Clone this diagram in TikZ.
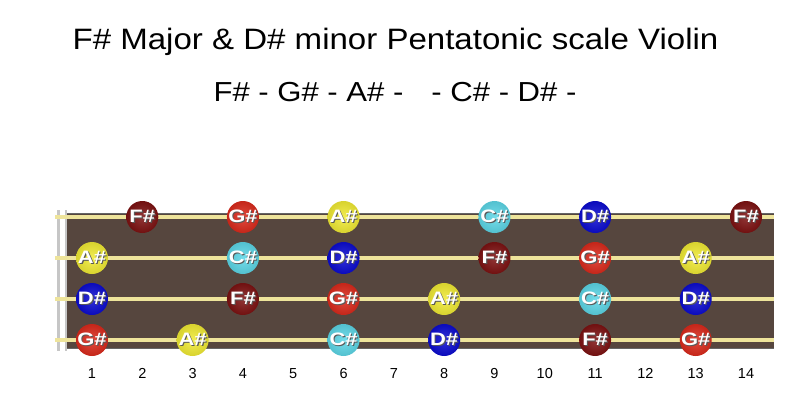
\documentclass[tikz,border=0pt]{standalone}
\usepackage{fontspec}
\setmainfont{Liberation Sans}
\newfontfamily\titlefont{Liberation Sans}[FakeStretch=1.12]
\newfontfamily\subfont{Liberation Sans}[FakeStretch=1.13]
\newfontfamily\notefont{Liberation Sans}[FakeStretch=1.22]
\definecolor{boardc}{RGB}{86,70,62}
\definecolor{stringc}{RGB}{238,228,155}
\definecolor{ndr}{RGB}{125,18,18}
\definecolor{nrd}{RGB}{218,42,28}
\definecolor{nye}{RGB}{240,234,52}
\definecolor{ncy}{RGB}{92,214,230}
\definecolor{nbl}{RGB}{12,12,208}
\newcommand\shtxt[1]{\makebox[0pt]{\hspace{2.2pt}\raisebox{-1.1pt}{\color{black!65}#1}}\makebox[0pt]{\color{white}#1}}
\tikzset{
  titletxt/.style={anchor=base,inner sep=0pt,font=\titlefont\fontsize{29.5}{34}\selectfont},
  subtxt/.style={anchor=base,inner sep=0pt,font=\subfont\fontsize{27.5}{32}\selectfont},
  fretnum/.style={inner sep=0pt,font=\fontsize{14.5}{16}\selectfont},
  vstring/.style={draw=stringc,line width=3.2pt},
  notec/.style={circle,minimum size=32pt,inner sep=0pt,shading=radial,
    inner color=#1!85!white,outer color=#1!90!black,
    font=\notefont\bfseries\fontsize{18}{20}\selectfont}
}
\begin{document}
\begin{tikzpicture}[x=1pt,y=-1pt]
\useasboundingbox (0,0) rectangle (800,415);
\node[titletxt] (title) at (395.5,49.5) {F\# Major \& D\# minor Pentatonic scale Violin};
\node[subtxt] (sub) at (395,101) {F\# - G\# - A\# -\hspace{28pt}- C\# - D\# -};
% board
\fill[boardc] (57,213) rectangle (774,348);
\draw[black!60,line width=0.6pt] (57,213) -- (774,213);
\draw[black!60,line width=0.6pt] (57,348) -- (774,348);
% nut
\fill[gray!45] (57,210) rectangle (67,351);
\fill[white] (60,210) rectangle (65,351);
% strings
\foreach \s/\y in {1/217,2/258,3/299,4/340}{
  \coordinate (sl\s) at (55,\y);
  \coordinate (sr\s) at (774,\y);
  \draw[vstring] (sl\s) -- (sr\s);
}
% fret numbers
\foreach \f in {1,...,14}{
  \node[fretnum] (fn\f) at ({92+(\f-1)*50.31},373.5) {\f};
}
% notes
\foreach \f/\s/\c/\t in {
  2/1/ndr/F, 4/1/nrd/G, 6/1/nye/A, 9/1/ncy/C, 11/1/nbl/D, 14/1/ndr/F,
  1/2/nye/A, 4/2/ncy/C, 6/2/nbl/D, 9/2/ndr/F, 11/2/nrd/G, 13/2/nye/A,
  1/3/nbl/D, 4/3/ndr/F, 6/3/nrd/G, 8/3/nye/A, 11/3/ncy/C, 13/3/nbl/D,
  1/4/nrd/G, 3/4/nye/A, 6/4/ncy/C, 8/4/nbl/D, 11/4/ndr/F, 13/4/nrd/G}{
  \pgfmathsetmacro\yy{217+(\s-1)*41}
  \node[notec=\c] (n\s-\f) at ({92+(\f-1)*50.31},\yy) {\shtxt{\t\#}};
}
\end{tikzpicture}
\end{document}
